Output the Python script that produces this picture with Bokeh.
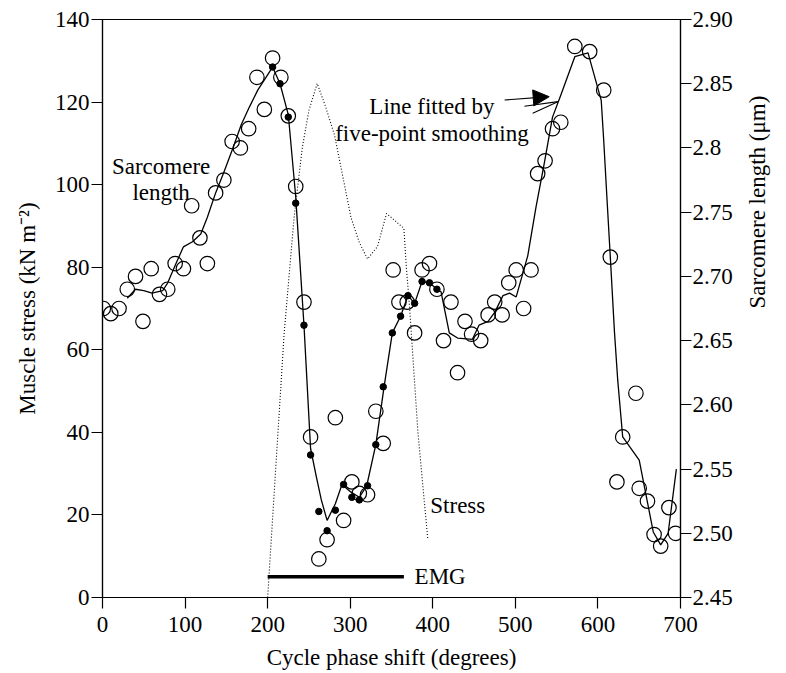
import math
from bokeh.plotting import figure
from bokeh.models import Range1d, LinearAxis, FixedTicker, Arrow, NormalHead, Label
from bokeh.embed import file_html
from bokeh.resources import INLINE

# ---------------- data ----------------
circle_phase = [1, 10, 20, 30, 40, 49, 59, 69, 79, 88, 98, 108, 118, 127, 137, 147, 157, 167,
                177, 187, 196, 206, 216, 225, 234, 244, 252, 262, 272, 282, 292, 302, 311, 321,
                331, 340, 352, 359, 369, 378, 387, 396, 405, 413, 422, 430, 439, 447, 458, 467,
                475, 484, 492, 501, 510, 519, 527, 536, 545, 555, 572, 590, 607, 615, 623, 630,
                646, 650, 660, 668, 676, 686, 694]
circle_length = [2.675, 2.671, 2.675, 2.690, 2.700, 2.665, 2.706, 2.686, 2.690, 2.710, 2.706,
                 2.755, 2.730, 2.710, 2.765, 2.775, 2.805, 2.800, 2.815, 2.855, 2.830, 2.870,
                 2.855, 2.825, 2.770, 2.680, 2.575, 2.480, 2.495, 2.590, 2.510, 2.540, 2.531,
                 2.530, 2.595, 2.570, 2.705, 2.680, 2.680, 2.656, 2.705, 2.710, 2.690, 2.650,
                 2.680, 2.625, 2.665, 2.655, 2.650, 2.670, 2.680, 2.670, 2.695, 2.705, 2.675,
                 2.705, 2.780, 2.790, 2.815, 2.820, 2.879, 2.875, 2.845, 2.715, 2.540, 2.575,
                 2.609, 2.535, 2.525, 2.499, 2.490, 2.520, 2.500]

dot_phase = [206, 215, 225, 234, 244, 252, 262, 272, 282, 292, 302, 311, 321, 331, 340, 351,
             361, 370, 378, 387, 396, 405]
dot_length = [2.863, 2.850, 2.824, 2.757, 2.662, 2.561, 2.517, 2.502, 2.518, 2.538, 2.528,
              2.526, 2.537, 2.569, 2.614, 2.656, 2.669, 2.685, 2.679, 2.696, 2.695, 2.690]

smooth_phase = [30, 40, 50, 60, 73, 79, 89, 98, 109, 119, 127, 137, 147, 158, 168, 178, 188,
                198, 206, 215, 225, 234, 244, 252, 259, 265, 272, 282, 290, 301, 311, 320, 331,
                341, 351, 361, 370, 378, 387, 396, 405, 410, 420, 430, 448, 456, 467, 475, 485,
                493, 501, 515, 525, 535, 545, 555, 572, 588, 604, 607, 611, 615, 620, 624, 630,
                650, 667, 676, 685, 695]
smooth_length = [2.683, 2.690, 2.689, 2.687, 2.689, 2.695, 2.710, 2.723, 2.727, 2.733, 2.746,
                 2.765, 2.781, 2.800, 2.818, 2.832, 2.845, 2.855, 2.863, 2.850, 2.826, 2.762,
                 2.662, 2.566, 2.544, 2.526, 2.510, 2.523, 2.538, 2.532, 2.528, 2.537, 2.569,
                 2.614, 2.656, 2.669, 2.685, 2.679, 2.696, 2.695, 2.690, 2.688, 2.656, 2.652,
                 2.651, 2.662, 2.665, 2.672, 2.685, 2.687, 2.684, 2.716, 2.754, 2.788, 2.824,
                 2.841, 2.871, 2.874, 2.837, 2.806, 2.760, 2.715, 2.657, 2.619, 2.575, 2.557,
                 2.501, 2.491, 2.500, 2.550]

stress_phase = [200, 220, 232, 242, 250, 260, 270, 281, 289, 301, 311, 321, 333, 344, 353, 365,
                368, 372, 376, 382, 394]
stress_value = [0, 64, 92, 109, 118, 124.5, 119, 112, 104, 92, 86, 82, 85, 93, 91.5, 89.4,
                80, 70, 58, 40, 14]

emg_phase = [200, 365]
emg_level = [5, 5]

x_ticks = [0, 100, 200, 300, 400, 500, 600, 700]
stress_ticks = [0, 20, 40, 60, 80, 100, 120, 140]
length_ticks = [2.45, 2.50, 2.55, 2.60, 2.65, 2.70, 2.75, 2.80, 2.85, 2.90]
length_tick_labels = ["2.45", "2.50", "2.55", "2.60", "2.65", "2.70", "2.75", "2.8", "2.85", "2.90"]

FONT = "Liberation Serif"
FS = "23px"

p = figure(width=786, height=673, x_range=Range1d(0, 700), y_range=Range1d(0, 140),
           output_backend="svg", toolbar_location=None,
           min_border_left=102, min_border_right=106, min_border_top=19, min_border_bottom=76)
p.extra_y_ranges = {"sl": Range1d(2.45, 2.90)}
p.grid.visible = False
p.outline_line_color = "black"
p.outline_line_width = 1.2
p.background_fill_color = "white"
p.border_fill_color = "white"

right_axis = LinearAxis(y_range_name="sl")
p.add_layout(right_axis, "right")

def style(ax, ticks):
    ax.ticker = FixedTicker(ticks=ticks)
    ax.minor_tick_line_color = None
    ax.major_tick_in = 0
    ax.major_tick_out = 11
    ax.major_tick_line_width = 1.2
    ax.axis_line_width = 1.2
    ax.axis_line_color = "black"
    ax.major_tick_line_color = "black"
    ax.major_label_text_font = FONT
    ax.major_label_text_font_size = FS
    ax.major_label_text_color = "black"
    ax.axis_label_text_font = FONT
    ax.axis_label_text_font_size = FS
    ax.axis_label_text_font_style = "normal"
    ax.axis_label_text_color = "black"

style(p.xaxis[0], x_ticks)
style(p.yaxis[0], stress_ticks)
style(right_axis, length_ticks)
right_axis.major_label_overrides = {t: s for t, s in zip(length_ticks, length_tick_labels)}

p.xaxis[0].axis_label = "Cycle phase shift (degrees)"
p.xaxis[0].major_label_standoff = 8
p.xaxis[0].axis_label_standoff = 10
p.yaxis[0].axis_label = "Muscle stress (kN m\u207b\u00b2)"
p.yaxis[0].major_label_standoff = 2
p.yaxis[0].axis_label_standoff = 12
right_axis.axis_label = "Sarcomere length (\u03bcm)"
right_axis.axis_label_orientation = math.pi / 2
right_axis.major_label_standoff = 1
right_axis.axis_label_standoff = 22

# stress (dotted) and EMG bar on left axis
p.line(stress_phase, stress_value, line_color="black", line_width=1.1, line_dash="1 2")
p.line(emg_phase, emg_level, line_color="black", line_width=3.5)

# sarcomere length: smoothed line, open circles, filled dots
p.line(smooth_phase, smooth_length, y_range_name="sl", line_color="black", line_width=1.3)
p.scatter(circle_phase, circle_length, y_range_name="sl", size=14.5, marker="circle",
          fill_alpha=0, line_color="black", line_width=1.2)
p.scatter(dot_phase, dot_length, y_range_name="sl", size=6.5, marker="circle",
          fill_color="black", line_color="black")

def lab(x, y, text, align="center", baseline="alphabetic"):
    p.add_layout(Label(x=x, y=y, text=text, text_align=align, text_baseline=baseline,
                       text_font=FONT, text_font_size=FS, text_color="black"))

lab(71, 104.3, "Sarcomere")
lab(71, 98.2, "length")
lab(399, 119.0, "Line fitted by")
lab(399, 112.5, "five-point smoothing")
lab(397, 22.4, "Stress", align="left")
lab(378, 5, "EMG", align="left", baseline="middle")

p.add_layout(Arrow(end=NormalHead(size=16, fill_color="black", line_color="black"),
                   x_start=487, y_start=120.5, x_end=541, y_end=121.3,
                   line_color="black", line_width=1.2))
p.add_layout(Arrow(end=None, x_start=511, y_start=119.0, x_end=551.5, y_end=120.1,
                   line_color="black", line_width=1.1))
p.add_layout(Arrow(end=None, x_start=521, y_start=117.3, x_end=551.5, y_end=120.1,
                   line_color="black", line_width=1.1))

open("out.html", "w").write(file_html(p, INLINE))
